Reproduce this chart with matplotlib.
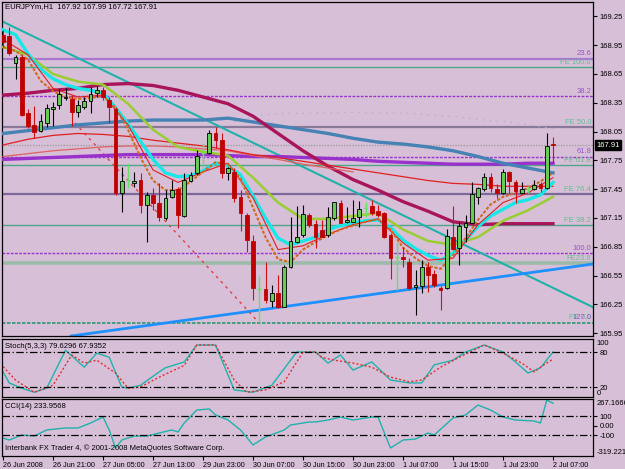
import numpy as np
import matplotlib.pyplot as plt

plt.rcParams['font.family'] = ['Liberation Sans', 'DejaVu Sans']

BG = '#D8BFD8'

# EURJPYm H1, one bar per hour from 26 Jun 13:00 to 2 Jul 07:00
time_labels = ['26 Jun 2008', '26 Jun 21:00', '27 Jun 05:00', '27 Jun 13:00',
               '29 Jun 23:00', '30 Jun 07:00', '30 Jun 15:00', '30 Jun 23:00',
               '1 Jul 07:00', '1 Jul 15:00', '1 Jul 23:00', '2 Jul 07:00']

opens = [169.06, 169.05, 168.76, 168.83, 168.24, 168.12, 168.06, 168.14, 168.28, 168.33,
         168.40, 168.39, 168.25, 168.31, 168.37, 168.45, 168.48, 168.38, 168.28, 167.41,
         167.55, 167.51, 167.55, 167.29, 167.39, 167.31, 167.15, 167.37, 167.45, 167.17,
         167.53, 167.62, 167.83, 167.83, 168.04, 167.96, 167.62, 167.63, 167.37, 167.18,
         166.91, 166.41, 166.41, 166.28, 166.37, 166.22, 166.64, 166.90, 166.97, 167.18,
         167.09, 167.02, 166.97, 167.15, 167.31, 167.11, 167.11, 167.16, 167.25, 167.27,
         167.22, 167.20, 166.97, 166.74, 166.74, 166.69, 166.43, 166.44, 166.64, 166.57,
         166.42, 166.42, 166.95, 166.84, 167.06, 167.10, 167.37, 167.45, 167.58, 167.45,
         167.41, 167.63, 167.52, 167.41, 167.45, 167.45, 167.50, 167.46, 167.92]
highs = [169.11, 169.14, 168.85, 168.85, 168.28, 168.32, 168.23, 168.34, 168.36, 168.49,
         168.50, 168.43, 168.38, 168.41, 168.51, 168.52, 168.51, 168.41, 168.31, 167.68,
         167.72, 167.63, 167.62, 167.42, 167.46, 167.51, 167.44, 167.55, 167.47, 167.62,
         167.63, 167.86, 167.93, 168.07, 168.10, 168.04, 167.68, 167.67, 167.44, 167.20,
         166.97, 166.54, 166.69, 166.45, 166.56, 166.66, 167.16, 167.27, 167.29, 167.20,
         167.13, 167.13, 167.26, 167.32, 167.34, 167.26, 167.34, 167.33, 167.32, 167.34,
         167.28, 167.21, 166.99, 166.90, 166.85, 166.73, 166.61, 166.71, 166.69, 166.61,
         166.44, 167.03, 167.27, 167.11, 167.18, 167.52, 167.47, 167.62, 167.62, 167.50,
         167.66, 167.64, 167.55, 167.52, 167.48, 167.55, 167.52, 168.03, 167.99]
lows = [168.93, 168.85, 168.60, 168.21, 168.09, 167.98, 168.05, 168.10, 168.11, 168.28,
        168.38, 168.11, 168.20, 168.28, 168.24, 168.41, 168.38, 168.14, 167.39, 167.21,
        167.46, 167.47, 167.20, 166.90, 167.23, 167.12, 167.13, 167.36, 167.05, 167.16,
        167.52, 167.60, 167.68, 167.82, 167.88, 167.57, 167.55, 167.32, 167.01, 166.80,
        166.30, 166.07, 166.26, 166.22, 166.21, 166.22, 166.63, 166.89, 166.95, 167.06,
        166.84, 166.95, 166.95, 167.13, 167.10, 167.10, 167.11, 167.06, 167.16, 167.18,
        167.16, 166.94, 166.51, 166.40, 166.64, 166.40, 166.14, 166.37, 166.38, 166.43,
        166.19, 166.41, 166.82, 166.66, 166.90, 167.10, 167.30, 167.43, 167.42, 167.36,
        167.40, 167.41, 167.31, 167.41, 167.41, 167.44, 167.42, 167.45, 167.72]
closes = [168.98, 168.87, 168.83, 168.22, 168.11, 168.05, 168.16, 168.30, 168.31, 168.44,
          168.41, 168.25, 168.33, 168.37, 168.44, 168.48, 168.41, 168.31, 167.41, 167.53,
          167.55, 167.54, 167.29, 167.39, 167.31, 167.16, 167.36, 167.44, 167.18, 167.55,
          167.60, 167.80, 167.83, 168.04, 167.96, 167.62, 167.67, 167.36, 167.20, 166.92,
          166.42, 166.41, 166.29, 166.37, 166.22, 166.64, 166.91, 166.95, 167.19, 167.08,
          166.95, 166.95, 167.16, 167.32, 167.10, 167.13, 167.15, 167.24, 167.25, 167.20,
          167.18, 166.95, 166.73, 166.74, 166.72, 166.42, 166.45, 166.64, 166.56, 166.45,
          166.40, 166.96, 166.83, 167.07, 167.10, 167.40, 167.46, 167.58, 167.46, 167.41,
          167.63, 167.53, 167.43, 167.45, 167.45, 167.49, 167.46, 167.90, 167.91]

# moving averages: fast ones every 2 bars, slow ones every 4 bars
fast_idx = list(range(0, 89, 2))
cyan_ma = [169.11, 169.06, 168.86, 168.70, 168.60, 168.54, 168.50, 168.48, 168.45, 168.30,
           168.13, 167.95, 167.76, 167.62, 167.58, 167.59, 167.64, 167.72, 167.69, 167.60,
           167.38, 167.15, 166.94, 166.87, 166.91, 166.95, 167.03, 167.07, 167.10, 167.12,
           167.13, 167.05, 166.92, 166.83, 166.76, 166.71, 166.78, 166.92, 167.06, 167.17,
           167.24, 167.31, 167.34, 167.39, 167.52]
orange_ma = [168.93, 168.89, 168.80, 168.58, 168.47, 168.41, 168.39, 168.40, 168.42, 168.30,
             168.07, 167.78, 167.54, 167.44, 167.44, 167.53, 167.63, 167.73, 167.71, 167.56,
             167.26, 166.95, 166.72, 166.69, 166.82, 166.90, 166.97, 167.03, 167.07, 167.11,
             167.14, 167.03, 166.84, 166.73, 166.65, 166.62, 166.76, 166.94, 167.13, 167.29,
             167.37, 167.41, 167.46, 167.53, 167.62]
slow_idx = list(range(0, 89, 4))
red_fast_ma = [169.01, 168.85, 168.50, 168.41, 168.43, 168.12, 167.65, 167.52, 167.63, 167.72,
               167.36, 166.82, 166.86, 166.98, 167.08, 167.14, 166.89, 166.71, 166.73, 167.08,
               167.31, 167.41, 167.57]
lime_ma = [168.93, 168.85, 168.65, 168.57, 168.54, 168.34, 168.07, 167.89, 167.84, 167.80,
           167.57, 167.31, 167.14, 167.14, 167.17, 167.20, 167.03, 166.91, 166.87, 166.95,
           167.12, 167.23, 167.37]
maroon_ma = [168.43, 168.45, 168.48, 168.50, 168.54, 168.55, 168.53, 168.48, 168.41, 168.34,
             168.21, 168.03, 167.85, 167.69, 167.55, 167.44, 167.32, 167.22, 167.11, 167.08,
             167.09, 167.09, 167.09]
steel_ma = [168.03, 168.06, 168.09, 168.12, 168.14, 168.16, 168.17, 168.17, 168.17, 168.19,
            168.15, 168.11, 168.07, 168.03, 167.98, 167.94, 167.92, 167.89, 167.85, 167.79,
            167.72, 167.67, 167.62]
purple_ma = [167.76, 167.77, 167.78, 167.79, 167.80, 167.81, 167.81, 167.81, 167.81, 167.80,
             167.79, 167.79, 167.78, 167.77, 167.76, 167.74, 167.73, 167.72, 167.71, 167.71,
             167.71, 167.72, 167.72]
red_slow_ma = [167.91, 167.97, 168.01, 168.03, 168.02, 168.00, 167.96, 167.93, 167.90, 167.86,
               167.81, 167.78, 167.74, 167.70, 167.66, 167.62, 167.58, 167.54, 167.51, 167.50,
               167.48, 167.48, 167.48]
red_slow2_idx = list(range(0, 57, 4))
red_slow2_ma = [167.79, 167.82, 167.85, 167.87, 167.89, 167.90, 167.90, 167.89, 167.87, 167.85,
                167.80, 167.76, 167.71, 167.67, 167.63]
# faint dotted envelope above the price
env_idx = [37, 41, 45, 49, 53, 57, 61, 65, 69, 73, 77, 81, 85, 88]
env_upper = [168.15, 168.22, 168.24, 168.24, 168.25, 168.25, 168.25, 168.24, 168.22, 168.20,
             168.17, 168.15, 168.11, 168.08]

# trend lines: (bar index, price) end points
teal_line_x, teal_line_y = [-0.5, 94.4], [169.21, 166.22]
blue_line_x, blue_line_y = [10.9, 94.4], [165.92, 166.67]
fibo_diag_x, fibo_diag_y = [11.5, 40.8], [168.14, 166.07]

# fibonacci / expansion levels
fib_prices = [168.81, 168.72, 168.42, 168.10, 167.79, 167.70, 167.40, 167.08, 166.78, 166.68, 166.06, 166.06]
fib_labels = ['23.6', 'FE 100.0', '38.2', 'FE 50.0', '61.8', 'FE 61.8', 'FE 76.4', 'FE 38.2',
              '100.0', 'FE23.6', 'FE 0.0', '127.0']
bid = 167.91

# stochastic (5,3,3)
stoch_k_idx = [0, 1, 3, 5, 7, 10, 13, 15, 17, 19, 20, 22, 25, 26, 29, 31, 34, 37, 40, 43,
               47, 50, 52, 54, 56, 59, 62, 65, 67, 69, 72, 74, 77, 80, 82, 84, 86, 88]
stoch_k = [46, 27, 18, 11, 18, 83, 54, 78, 71, 20, 18, 23, 46, 53, 63, 92, 92, 15, 11, 23,
           80, 80, 61, 75, 49, 63, 32, 27, 27, 58, 66, 80, 92, 80, 63, 44, 53, 80]
stoch_d_idx = [0, 2, 5, 8, 11, 13, 15, 18, 20, 22, 25, 29, 31, 34, 37, 39, 42, 45, 48, 50,
               51, 53, 56, 59, 62, 65, 67, 70, 73, 77, 80, 83, 85, 86, 88]
stoch_d = [55, 32, 11, 23, 75, 61, 66, 44, 18, 20, 37, 57, 92, 92, 32, 11, 15, 29, 80, 80,
           71, 66, 61, 54, 37, 29, 32, 54, 71, 92, 78, 61, 46, 54, 68]

# CCI(14)
cci_idx = [0, 1, 3, 5, 7, 10, 12, 14, 16, 17, 18, 19, 21, 23, 25, 27, 28, 29, 31, 33,
           34, 36, 38, 40, 42, 45, 46, 49, 50, 52, 54, 56, 59, 60, 62, 64, 66, 68, 69, 72,
           74, 76, 78, 80, 82, 85, 86, 87, 88]
cci = [-132, -153, -100, -111, -47, -26, -26, 26, 89, -47, -237, -153, -111, -111, -79, -47,
       -68, 26, 163, 174, 111, 58, -47, -205, -121, -47, 5, 37, 37, 58, 89, 58, 89, 89,
       -237, -153, -142, -79, -100, 79, 111, 216, 163, 89, 58, 47, 26, 267, 234]

# ---------------------------------------------------------------
fig = plt.figure(figsize=(6.25, 4.69), dpi=100, facecolor=BG)
W, H = 625.0, 469.0
left, width = 2 / W, 591 / W
ax = fig.add_axes([left, 1 - 336 / H, width, 334 / H], facecolor=BG)
ax_st = fig.add_axes([left, 1 - 397 / H, width, 58 / H], facecolor=BG)
ax_cci = fig.add_axes([left, 1 - 456 / H, width, 57 / H], facecolor=BG)

FS = 5.5
xlim = (-0.16, 94.4)
for a in (ax, ax_st, ax_cci):
    a.set_xlim(*xlim)
    a.yaxis.tick_right()
    a.tick_params(axis='y', direction='out', length=3, width=0.8, labelsize=FS, pad=2)
    for s in a.spines.values():
        s.set_color('black')
        s.set_linewidth(0.9)

# --- main chart ---
ax.set_ylim(165.92, 169.40)

fib_styles = {
    '23.6': ('#A878D0', 1.6, '-'), 'FE 100.0': ('#4FA58A', 1.0, '-'),
    '38.2': ('#9933CC', 1.0, (0, (2, 1))), 'FE 50.0': ('#8A7A9A', 1.6, '-'),
    '61.8': ('#9933CC', 1.0, (0, (2, 1))), 'FE 61.8': ('#4FA58A', 1.0, '-'),
    'FE 76.4': ('#7A6A9A', 1.6, '-'), 'FE 38.2': ('#4FA58A', 1.0, '-'),
    '100.0': ('#9933CC', 1.0, (0, (2, 1))), 'FE23.6': ('#9DBBA8', 2.6, '-'),
    'FE 0.0': ('#3FA080', 1.2, (0, (2, 1))), '127.0': ('#3FA080', 1.2, (0, (2, 1))),
}
for p, lab in zip(fib_prices, fib_labels):
    col, lw, ls = fib_styles[lab]
    ax.axhline(p, color=col, lw=lw, ls=ls, zorder=1)
    tcol = '#5FBF8F' if lab.startswith('FE') else '#9955CC'
    ax.text(94.1, p + 0.012, lab, color=tcol, fontsize=FS, ha='right', va='bottom', zorder=2)
ax.axhline(bid, color='#A0A0A0', lw=1.0, ls=(0, (1, 1)), zorder=1)
ax.plot(env_idx, env_upper, color='#B8B0C0', lw=1.0, ls=(0, (1, 4)), zorder=1)

# trend lines
ax.plot(teal_line_x, teal_line_y, color='#20B2AA', lw=1.5, zorder=2)
ax.plot(blue_line_x, blue_line_y, color='#1E90FF', lw=2.0, zorder=2)
ax.plot(fibo_diag_x, fibo_diag_y, color='#E04040', lw=1.0, ls=(0, (2, 3)), zorder=2)

# slow averages
ax.plot(slow_idx, purple_ma, color='#9932CC', lw=2.4, zorder=3)
ax.plot(slow_idx, steel_ma, color='#4682B4', lw=2.4, zorder=3)
ax.plot(slow_idx, maroon_ma, color='#A8155A', lw=2.4, zorder=3)
ax.plot(red_slow2_idx, red_slow2_ma, color='#E06060', lw=0.9, zorder=3)
ax.plot(slow_idx, red_slow_ma, color='#E02020', lw=0.9, zorder=3)
# fast averages
ax.plot(slow_idx, lime_ma, color='#9ACD32', lw=1.8, zorder=4)
ax.plot(fast_idx, cyan_ma, color='#19E6E6', lw=2.4, zorder=4)
ax.plot(slow_idx, red_fast_ma, color='#E02020', lw=0.8, zorder=4)
ax.plot(fast_idx, orange_ma, color='#D2691E', lw=1.5, ls=(0, (1.5, 0.8)), zorder=4)

# candles
x = np.arange(len(opens))
o, h, l, c = map(np.array, (opens, highs, lows, closes))
up, dn, fl = c > o, c < o, c == o
ax.vlines(x[up], l[up], h[up], color='black', lw=0.8, zorder=5)
ax.vlines(x[dn], l[dn], h[dn], color='#D01010', lw=0.8, zorder=5)
ax.vlines(x[fl], l[fl], h[fl], color='#66E066', lw=1.0, zorder=5)
ax.hlines(c[fl], x[fl] - 0.3, x[fl] + 0.3, color='#66E066', lw=1.0, zorder=5)
ax.bar(x[up], np.maximum((c - o)[up], 0.012), bottom=o[up], width=0.6, color='#66CC55',
       edgecolor='black', lw=0.6, zorder=6)
ax.bar(x[dn], np.maximum((o - c)[dn], 0.012), bottom=c[dn], width=0.6, color='#C00000',
       edgecolor='#C00000', lw=0.6, zorder=6)

ax.set_yticks(np.round(np.arange(165.95, 169.30, 0.30), 2))
ax.set_yticklabels([f'{v:.2f}' for v in np.arange(165.95, 169.30, 0.30)])
ax.set_xticks([])
ax.text(1.006, bid, f'{bid:.2f}', transform=ax.get_yaxis_transform(), color='white',
        fontsize=FS, va='center', ha='left',
        bbox=dict(boxstyle='square,pad=0.15', fc='black', ec='black'), zorder=10, clip_on=False)

# --- stochastic ---
ax_st.set_ylim(2.9, 102.3)
ax_st.plot(stoch_k_idx, stoch_k, color='#20B2AA', lw=1.0)
ax_st.plot(stoch_d_idx, stoch_d, color='#E03030', lw=1.0, ls=(0, (1.5, 1.5)))
for lv in (80, 20):
    ax_st.axhline(lv, color='black', lw=0.9, ls=(0, (6, 2, 1, 2)))
ax_st.set_xticks([])
ax_st.set_yticks([20, 80])
ax_st.set_yticklabels(['20', '80'])
tr = ax_st.get_yaxis_transform()
ax_st.text(1.006, 100, '100', transform=tr, fontsize=FS, va='top', ha='left')
ax_st.text(1.006, 2.9, '0', transform=tr, fontsize=FS, va='bottom', ha='left')

# --- CCI ---
ax_cci.set_ylim(-321, 279)
ax_cci.plot(cci_idx, cci, color='#20B2AA', lw=1.0)
for lv in (100, -100):
    ax_cci.axhline(lv, color='black', lw=0.9, ls=(0, (6, 2, 1, 2)))
ax_cci.set_yticks([100, 0, -100])
ax_cci.set_yticklabels(['100', '0.00', '-100'])
tr = ax_cci.get_yaxis_transform()
ax_cci.text(1.006, 267.1666, '267.1666', transform=tr, fontsize=FS, va='top', ha='left')
ax_cci.text(1.006, -319.221, '-319.221', transform=tr, fontsize=FS, va='bottom', ha='left')
ax_cci.set_xticks(range(0, 89, 8))
ax_cci.set_xticklabels(time_labels, fontsize=5.2, ha='left')
ax_cci.tick_params(axis='x', direction='out', length=3, width=0.8, pad=1)

# captions
fig.text(5 / W, 1 - 3 / H, 'EURJPYm,H1  167.92 167.99 167.72 167.91', fontsize=FS, va='top')
fig.text(5 / W, 1 - 343 / H, 'Stoch(5,3,3) 79.6296 67.9352', fontsize=FS, va='top')
fig.text(5 / W, 1 - 403 / H, 'CCI(14) 233.9568', fontsize=FS, va='top')
fig.text(5 / W, 1 - 444 / H, 'Interbank FX Trader 4, \u00a9 2001-2008 MetaQuotes Software Corp.',
         fontsize=FS, va='top')

fig.savefig('out.png', dpi=100, facecolor=BG)
